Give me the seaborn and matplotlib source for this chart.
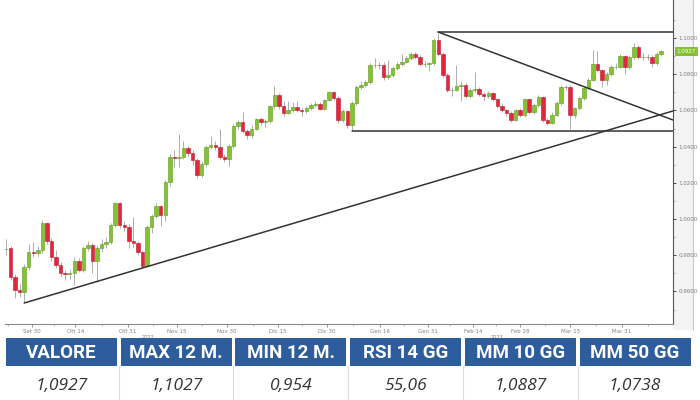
import numpy as np
import pandas as pd
import matplotlib
matplotlib.use("Agg")
import matplotlib.pyplot as plt
import seaborn as sns
from matplotlib.patches import Rectangle
from matplotlib.lines import Line2D
from matplotlib.ticker import FixedLocator, FuncFormatter

# ---------------- data ----------------
opens = [0.9834, 0.9840, 0.9680, 0.9610, 0.9595, 0.9735, 0.9820, 0.9810, 0.9830, 0.9980,
         0.9880, 0.9790, 0.9746, 0.9700, 0.9695, 0.9700, 0.9770, 0.9720, 0.9840, 0.9856,
         0.9770, 0.9840, 0.9860, 0.9875, 0.9967, 1.0088, 0.9967, 0.9956, 0.9880, 0.9865,
         0.9820, 0.9740, 0.9956, 1.0017, 1.0072, 1.0020, 1.0204, 1.0343, 1.0335, 1.0345,
         1.0390, 1.0365, 1.0326, 1.0243, 1.0304, 1.0398, 1.0410, 1.0398, 1.0343, 1.0332,
         1.0403, 1.0514, 1.0536, 1.0486, 1.0464, 1.0500, 1.0552, 1.0536, 1.0540, 1.0624,
         1.0685, 1.0624, 1.0586, 1.0600, 1.0619, 1.0600, 1.0595, 1.0613, 1.0630, 1.0635,
         1.0608, 1.0657, 1.0702, 1.0670, 1.0547, 1.0597, 1.0520, 1.0640, 1.0729, 1.0740,
         1.0757, 1.0850, 1.0852, 1.0850, 1.0785, 1.0796, 1.0834, 1.0856, 1.0867, 1.0890,
         1.0910, 1.0895, 1.0856, 1.0858, 1.0860, 1.0990, 1.0910, 1.0796, 1.0713, 1.0715,
         1.0735, 1.0740, 1.0680, 1.0713, 1.0718, 1.0690, 1.0680, 1.0696, 1.0663, 1.0625,
         1.0600, 1.0586, 1.0547, 1.0600, 1.0575, 1.0663, 1.0590, 1.0630, 1.0674, 1.0547,
         1.0530, 1.0575, 1.0640, 1.0729, 1.0727, 1.0575, 1.0613, 1.0668, 1.0724, 1.0768,
         1.0856, 1.0823, 1.0768, 1.0800, 1.0840, 1.0842, 1.0900, 1.0840, 1.0895, 1.0950,
         1.0895, 1.0897, 1.0895, 1.0860, 1.0910]
closes = [0.9836, 0.9680, 0.9610, 0.9595, 0.9735, 0.9820, 0.9810, 0.9830, 0.9980, 0.9880,
          0.9790, 0.9746, 0.9700, 0.9695, 0.9700, 0.9770, 0.9720, 0.9840, 0.9856, 0.9770,
          0.9840, 0.9860, 0.9875, 0.9967, 1.0088, 0.9967, 0.9956, 0.9880, 0.9865, 0.9820,
          0.9740, 0.9956, 1.0017, 1.0072, 1.0020, 1.0204, 1.0343, 1.0335, 1.0345, 1.0390,
          1.0365, 1.0326, 1.0243, 1.0304, 1.0398, 1.0410, 1.0398, 1.0343, 1.0332, 1.0403,
          1.0514, 1.0536, 1.0486, 1.0464, 1.0500, 1.0552, 1.0536, 1.0540, 1.0624, 1.0685,
          1.0624, 1.0586, 1.0600, 1.0619, 1.0600, 1.0595, 1.0613, 1.0630, 1.0635, 1.0608,
          1.0657, 1.0702, 1.0670, 1.0547, 1.0597, 1.0520, 1.0640, 1.0729, 1.0740, 1.0757,
          1.0850, 1.0852, 1.0850, 1.0785, 1.0796, 1.0834, 1.0856, 1.0867, 1.0890, 1.0910,
          1.0895, 1.0856, 1.0858, 1.0860, 1.0990, 1.0910, 1.0796, 1.0713, 1.0715, 1.0735,
          1.0740, 1.0680, 1.0713, 1.0718, 1.0690, 1.0680, 1.0696, 1.0663, 1.0625, 1.0600,
          1.0586, 1.0547, 1.0600, 1.0575, 1.0663, 1.0590, 1.0630, 1.0674, 1.0547, 1.0530,
          1.0575, 1.0640, 1.0729, 1.0727, 1.0575, 1.0613, 1.0668, 1.0724, 1.0768, 1.0856,
          1.0823, 1.0768, 1.0800, 1.0840, 1.0842, 1.0900, 1.0840, 1.0895, 1.0950, 1.0895,
          1.0897, 1.0895, 1.0860, 1.0910, 1.0927]
highs = [0.9890, 0.9850, 0.9695, 0.9640, 0.9750, 0.9860, 0.9875, 0.9850, 0.9995, 0.9985,
         0.9895, 0.9830, 0.9760, 0.9720, 0.9725, 0.9790, 0.9785, 0.9850, 0.9880, 0.9865,
         0.9855, 0.9890, 0.9900, 0.9980, 1.0095, 1.0095, 0.9990, 0.9970, 1.0010, 0.9880,
         0.9830, 0.9965, 1.0030, 1.0090, 1.0080, 1.0215, 1.0360, 1.0380, 1.0470, 1.0430,
         1.0405, 1.0380, 1.0335, 1.0320, 1.0410, 1.0460, 1.0430, 1.0495, 1.0360, 1.0415,
         1.0525, 1.0545, 1.0590, 1.0500, 1.0520, 1.0560, 1.0565, 1.0555, 1.0630, 1.0735,
         1.0695, 1.0650, 1.0650, 1.0645, 1.0650, 1.0615, 1.0625, 1.0640, 1.0650, 1.0645,
         1.0665, 1.0710, 1.0710, 1.0680, 1.0610, 1.0605, 1.0650, 1.0740, 1.0760, 1.0770,
         1.0860, 1.0890, 1.0870, 1.0865, 1.0880, 1.0845, 1.0870, 1.0910, 1.0900, 1.0920,
         1.0925, 1.0905, 1.0875, 1.0870, 1.1000, 1.1027, 1.0920, 1.0805, 1.0730, 1.0850,
         1.0760, 1.0750, 1.0725, 1.0810, 1.0730, 1.0700, 1.0705, 1.0700, 1.0670, 1.0640,
         1.0610, 1.0595, 1.0610, 1.0615, 1.0670, 1.0670, 1.0640, 1.0685, 1.0680, 1.0560,
         1.0590, 1.0650, 1.0740, 1.0740, 1.0740, 1.0620, 1.0680, 1.0735, 1.0780, 1.0935,
         1.0930, 1.0830, 1.0810, 1.0850, 1.0860, 1.0910, 1.0905, 1.0905, 1.0970, 1.0960,
         1.0915, 1.0910, 1.0905, 1.0920, 1.0935]
lows = [0.9800, 0.9665, 0.9565, 0.9570, 0.9540, 0.9720, 0.9790, 0.9795, 0.9815, 0.9860,
        0.9770, 0.9730, 0.9680, 0.9665, 0.9670, 0.9635, 0.9705, 0.9710, 0.9825, 0.9700,
        0.9650, 0.9820, 0.9840, 0.9860, 0.9955, 0.9950, 0.9935, 0.9840, 0.9845, 0.9800,
        0.9730, 0.9735, 0.9925, 1.0005, 0.9960, 0.9990, 1.0185, 1.0290, 1.0290, 1.0330,
        1.0340, 1.0300, 1.0225, 1.0230, 1.0290, 1.0385, 1.0380, 1.0330, 1.0315, 1.0295,
        1.0395, 1.0500, 1.0475, 1.0440, 1.0450, 1.0490, 1.0520, 1.0510, 1.0530, 1.0610,
        1.0610, 1.0570, 1.0580, 1.0590, 1.0590, 1.0570, 1.0585, 1.0605, 1.0620, 1.0600,
        1.0600, 1.0650, 1.0660, 1.0530, 1.0535, 1.0505, 1.0486, 1.0630, 1.0720, 1.0730,
        1.0745, 1.0835, 1.0830, 1.0770, 1.0775, 1.0785, 1.0825, 1.0845, 1.0860, 1.0880,
        1.0885, 1.0845, 1.0840, 1.0820, 1.0850, 1.0900, 1.0785, 1.0700, 1.0680, 1.0705,
        1.0650, 1.0670, 1.0670, 1.0700, 1.0680, 1.0650, 1.0670, 1.0650, 1.0615, 1.0590,
        1.0570, 1.0535, 1.0540, 1.0565, 1.0565, 1.0580, 1.0580, 1.0620, 1.0535, 1.0520,
        1.0525, 1.0570, 1.0630, 1.0715, 1.0500, 1.0560, 1.0600, 1.0660, 1.0715, 1.0760,
        1.0810, 1.0730, 1.0740, 1.0790, 1.0830, 1.0835, 1.0800, 1.0830, 1.0885, 1.0885,
        1.0880, 1.0880, 1.0840, 1.0850, 1.0900]

last_price = 1.0927

# x tick labels (trading-day index positions)
xtick_labels = ["Set 30", "Ott 14", "Ott 31", "Nov 15", "Nov 30", "Dic 15", "Dic 30",
                "Gen 16", "Gen 31", "Feb 14", "Feb 28", "Mar 15", "Mar 31"]
xtick_pos = [5.7, 15.2, 26.8, 37.6, 48.6, 59.8, 70.5, 82.2, 92.7, 102.6, 113.0, 124.0, 135.4]
year_labels = ["2022", "2023"]
year_pos = [31.2, 108.0]

yticks = [0.96, 0.98, 1.00, 1.02, 1.04, 1.06, 1.08, 1.10]

# drawn trend / channel lines: (segment, x index, value)
line_seg = ["trend", "trend", "fall", "fall", "top", "top", "bottom", "bottom"]
line_x = [4.0, 146.6, 95.0, 146.6, 95.0, 146.6, 76.0, 146.6]
line_y = [0.9536, 1.0597, 1.1033, 1.0547, 1.1033, 1.1033, 1.0486, 1.0486]

# table
table_headers = ["VALORE", "MAX 12 M.", "MIN 12 M.", "RSI 14 GG", "MM 10 GG", "MM 50 GG"]
table_values = ["1,0927", "1,1027", "0,954", "55,06", "1,0887", "1,0738"]

# ---------------- styling ----------------
sns.set_theme(style="white")
plt.rcParams["font.family"] = ["DejaVu Sans"]

GREEN = "#84c232"
GREEN_EDGE = "#5f9a1c"
RED = "#e3263d"
RED_EDGE = "#b81a2c"
WICK = "#a0a0a0"
BLUE = "#2e5d9d"

W, H = 700, 400
fig = plt.figure(figsize=(7, 4), dpi=100)
fig.patch.set_facecolor("white")

# light strip behind right-hand price labels
fig.add_artist(Rectangle((673 / W, (H - 330) / H), 20 / W, 330 / H,
                         transform=fig.transFigure, facecolor="#f3f3f3",
                         edgecolor="none", zorder=-2))
fig.add_artist(Line2D([693 / W, 693 / W], [(H - 330) / H, 1.0],
                      transform=fig.transFigure, color="#c8c8c8", lw=0.8, zorder=-1))

ax = fig.add_axes([5 / W, (H - 324) / H, 668 / W, 324 / H])
ax.set_facecolor("white")

df = pd.DataFrame({"open": opens, "close": closes, "high": highs, "low": lows})
df["idx"] = np.arange(len(df))
df["body"] = df["close"] - df["open"]
up = df["close"] >= df["open"]

ax.vlines(df["idx"], df["low"], df["high"], color=WICK, lw=0.6, zorder=1)
ax.bar(df.loc[up, "idx"], df.loc[up, "body"], bottom=df.loc[up, "open"], width=0.76,
       color=GREEN, edgecolor=GREEN_EDGE, linewidth=0.4, zorder=2)
ax.bar(df.loc[~up, "idx"], df.loc[~up, "body"], bottom=df.loc[~up, "open"], width=0.76,
       color=RED, edgecolor=RED_EDGE, linewidth=0.4, zorder=2)

lines_df = pd.DataFrame({"seg": line_seg, "x": line_x, "y": line_y})
sns.lineplot(data=lines_df, x="x", y="y", units="seg", estimator=None, sort=False,
             color="#333333", lw=1.1, ax=ax, legend=False, zorder=3)
ax.set_xlabel("")
ax.set_ylabel("")

ax.set_xlim(-0.22, 146.6)
ax.set_ylim(0.942, 1.121)

# spines
for s in ["top", "left"]:
    ax.spines[s].set_visible(False)
ax.spines["right"].set_color("#555555")
ax.spines["right"].set_linewidth(0.8)
ax.spines["bottom"].set_color("#8a8a8a")
ax.spines["bottom"].set_linewidth(0.8)

# y axis on the right
ax.yaxis.tick_right()
ax.yaxis.set_major_locator(FixedLocator(yticks))
ax.yaxis.set_minor_locator(FixedLocator([v + 0.01 for v in [0.94] + yticks]))
ax.yaxis.set_major_formatter(FuncFormatter(lambda v, p: f"{v:.4f}"))
ax.tick_params(axis="y", which="major", right=True, left=False, length=2.5, width=0.7,
               color="#444444", labelsize=4, labelcolor="#808080", pad=1.5)
ax.tick_params(axis="y", which="minor", right=True, left=False, length=1.5, width=0.5,
               color="#888888")

# x axis
ax.xaxis.set_major_locator(FixedLocator(xtick_pos))
ax.set_xticklabels(xtick_labels)
minor_x = [(a + b) / 2 for a, b in zip(xtick_pos[:-1], xtick_pos[1:])] + [0.5, 141.0]
ax.xaxis.set_minor_locator(FixedLocator(minor_x))
ax.tick_params(axis="x", which="major", bottom=True, length=2, width=0.6, color="#888888",
               labelsize=4, labelcolor="#808080", pad=1.5)
ax.tick_params(axis="x", which="minor", bottom=True, length=1.5, width=0.5, color="#aaaaaa")

for lbl, pos in zip(year_labels, year_pos):
    ax.text(pos, -0.035, lbl, transform=ax.get_xaxis_transform(), ha="center", va="top",
            fontsize=3.6, color="#808080")

# last price tag
ax.annotate(f"{last_price:.4f}", xy=(1.0, last_price), xycoords=("axes fraction", "data"),
            xytext=(2.2, 0), textcoords="offset points", ha="left", va="center",
            fontsize=4, color="white", annotation_clip=False, zorder=5,
            bbox=dict(boxstyle="square,pad=0.25", fc=GREEN, ec=GREEN_EDGE, lw=0.4))

# ---------------- table ----------------
cell_w = 111
for i, (hdr, val) in enumerate(zip(table_headers, table_values)):
    x0 = 6 + i * 114.7
    fig.add_artist(Rectangle((x0 / W, (H - 366) / H), cell_w / W, 28 / H,
                             transform=fig.transFigure, facecolor=BLUE, edgecolor="none"))
    fig.text((x0 + cell_w / 2) / W, 1 - 352.5 / H, hdr, ha="center", va="center",
             color="white", fontsize=13.5, fontweight="bold", family="Roboto")
    fig.text((x0 + cell_w / 2) / W, 1 - 385.5 / H, val, ha="center", va="center",
             color="#333333", fontsize=12.5, style="italic", family="Open Sans")
    if i > 0:
        xs = (x0 - 2) / W
        fig.add_artist(Line2D([xs, xs], [0.0, (H - 366) / H], transform=fig.transFigure,
                              color="#dddddd", lw=0.8))

fig.savefig("out.png", dpi=100)
